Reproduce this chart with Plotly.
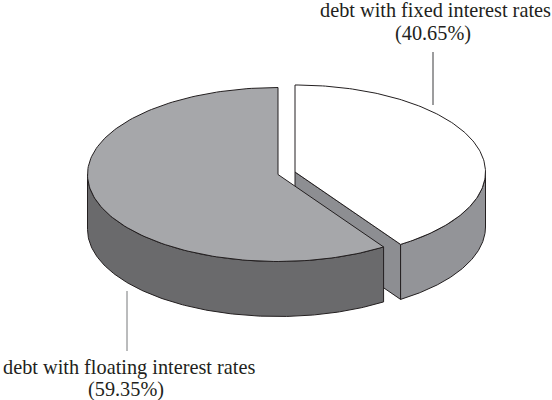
import numpy as np
import plotly.graph_objects as go

categories = ["debt with fixed interest rates", "debt with floating interest rates"]
shares = [40.65, 59.35]
share_labels = ["(40.65%)", "(59.35%)"]

W, H = 552, 400
RX, RY, DEPTH = 190.5, 87.0, 55
INK = "#231f20"
C_FIXED_TOP = "#ffffff"
C_FIXED_WALL = "#939498"
C_FIXED_CUT = "#8d8e92"
C_FLOAT_TOP = "#a6a7aa"
C_FLOAT_WALL = "#6a6a6c"

split = 360 * shares[0] / sum(shares)
fixed_c = (295.0, 172.0)
float_c = (278.0, 174.5)


def arc(c, a0, a1, n=160):
    t = np.radians(np.linspace(a0, a1, n))
    return c[0] + RX * np.sin(t), c[1] - RY * np.cos(t)


def wall(c, a0, a1):
    x, y = arc(c, a0, a1)
    return np.r_[x, x[::-1], x[0]], np.r_[y, y[::-1] + DEPTH, y[0]]


def sector(c, a0, a1):
    x, y = arc(c, a0, a1)
    return np.r_[c[0], x, c[0]], np.r_[c[1], y, c[1]]


fig = go.Figure()


def poly(xy, fill, lw=1.0):
    fig.add_trace(go.Scatter(x=xy[0], y=xy[1], mode="lines", fill="toself", fillcolor=fill,
                             line=dict(color=INK, width=lw), hoverinfo="skip", showlegend=False))


# fixed-rate slice: cut face, outer wall, top
tx, ty = arc(fixed_c, split, split, 1)
poly((np.array([fixed_c[0], tx[0], tx[0], fixed_c[0], fixed_c[0]]),
      np.array([fixed_c[1], ty[0], ty[0] + DEPTH, fixed_c[1] + DEPTH, fixed_c[1]])), C_FIXED_CUT)
poly(wall(fixed_c, 90, split), C_FIXED_WALL)
poly(sector(fixed_c, 0, split), C_FIXED_TOP)
# floating-rate slice: outer wall, top
poly(wall(float_c, split, 270), C_FLOAT_WALL)
poly(sector(float_c, split, 360), C_FLOAT_TOP)

# leader lines
for xs, ys, col in [([433, 433], [52, 105], "#3a3a3c"), ([127, 127], [291, 351], "#77787a")]:
    fig.add_trace(go.Scatter(x=xs, y=ys, mode="lines", line=dict(color=col, width=1),
                             hoverinfo="skip", showlegend=False))

font = dict(family="Liberation Serif", size=20.3, color=INK)
for text, x, y in [
    (categories[0], 435, 10), (share_labels[0], 433, 33),
    (categories[1], 128.5, 367), (share_labels[1], 126, 389),
]:
    fig.add_annotation(x=x, y=y, text=text, showarrow=False, font=font,
                       xanchor="center", yanchor="middle")

fig.update_layout(width=W, height=H, margin=dict(l=0, r=0, t=0, b=0),
                  paper_bgcolor="white", plot_bgcolor="white", showlegend=False,
                  xaxis=dict(range=[0, W], visible=False, fixedrange=True),
                  yaxis=dict(range=[H, 0], visible=False, fixedrange=True))
fig.write_html("out.html", config={"displayModeBar": False},
               post_script="document.body.style.margin='0';document.body.style.overflow='hidden';")
